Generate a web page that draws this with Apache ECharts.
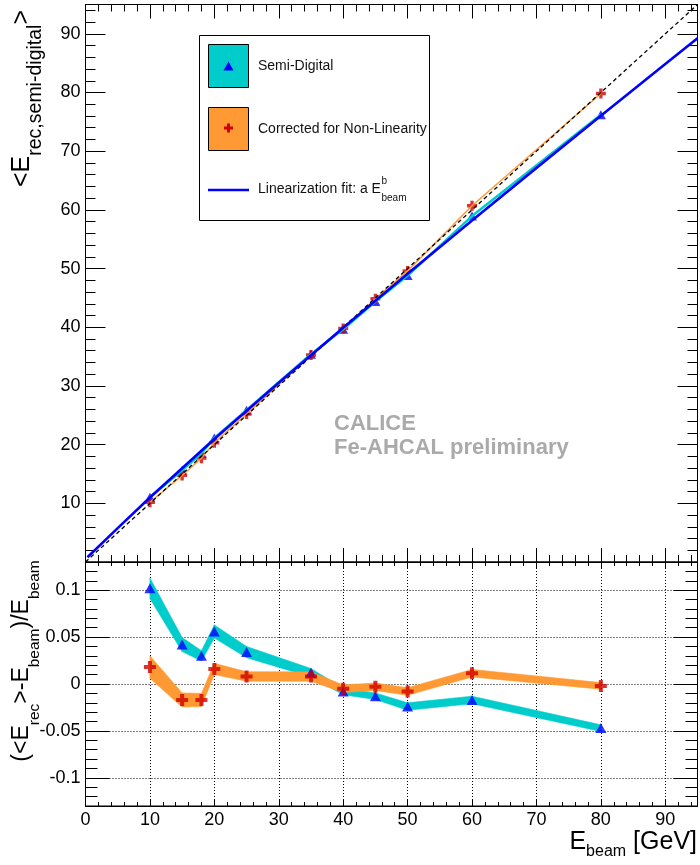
<!DOCTYPE html>
<html>
<head>
<meta charset="utf-8">
<script src="https://cdn.jsdelivr.net/npm/echarts@6/dist/echarts.min.js"></script>
<style>
html, body { margin: 0; padding: 0; background: #fff; }
#chart { width: 700px; height: 865px; }
</style>
</head>
<body>
<div id="chart"></div>
<script>
// Beam energies (GeV) of the measured points
const beamEnergy = [10, 15, 18, 20, 25, 35, 40, 45, 50, 60, 80];

// Mean reconstructed energy (GeV), upper panel
const recSemiDigital = [11.02, 15.63, 18.54, 21.12, 25.85, 35.42, 39.66, 44.40, 48.80, 58.95, 76.20];
const recCorrected   = [10.18, 14.75, 17.69, 20.32, 25.20, 35.28, 39.80, 44.86, 49.60, 60.70, 79.84];

// Relative deviation (<E_rec> - E_beam) / E_beam and its band half-width, lower panel
const devSemiDigital    = [0.102, 0.042, 0.030, 0.056, 0.034, 0.012, -0.008, -0.013, -0.024, -0.017, -0.047];
const devSemiDigitalErr = [0.011, 0.0075, 0.0055, 0.007, 0.006, 0.0045, 0.0035, 0.0035, 0.004, 0.004, 0.0035];
const devCorrected      = [0.018, -0.017, -0.017, 0.016, 0.008, 0.008, -0.005, -0.003, -0.008, 0.0115, -0.002];
const devCorrectedErr   = [0.012, 0.0075, 0.007, 0.006, 0.005, 0.005, 0.004, 0.004, 0.004, 0.004, 0.0035];

// Linearization fit a*E^b, sampled along the beam-energy range
const fitEnergy   = [0.3, 5, 10, 20, 30, 40, 50, 60, 70, 80, 90, 95];
const fitResponse = [0.8, 5.77, 11.0, 20.96, 30.55, 39.93, 49.12, 58.18, 67.16, 76.05, 84.86, 89.24];

// Diagonal E_rec = E_beam
const diagonal = [0, 95];

// Axis ranges and tick steps
const energyRange = [0, 95];
const responseRange = [0, 95];
const deviationRange = [-0.13, 0.13];
const energyMajor = 10, energyMinor = 2;
const responseMajor = 10, responseMinor = 2;
const deviationMinor = 0.01;

const FONT = 'Liberation Sans, Arial, Helvetica, sans-serif';
const CYAN = '#00cccc';
const ORANGE = '#ff9933';
const BLUE = '#0000ff';
const RED = '#d00000';
const CROSS = 'path://M4,0H8V4H12V8H8V12H4V8H0V4H4Z';

const pairs = (xs, ys) => xs.map((x, i) => [x, ys[i]]);

function axisBase(grid, pos, range, tickLen, extra) {
  return Object.assign({
    type: 'value', gridIndex: grid, position: pos, min: range[0], max: range[1],
    axisLine: { show: true, onZero: false, lineStyle: { color: '#000', width: 1 } },
    axisTick: { show: true, inside: true, length: tickLen, lineStyle: { color: '#000', width: 1 } },
    axisLabel: { show: false },
    splitLine: { show: false },
    minorTick: { show: false },
    minorSplitLine: { show: false }
  }, extra || {});
}

const tickLabel = { show: true, fontFamily: FONT, fontSize: 18, color: '#000' };
const dotted = { show: true, lineStyle: { color: '#000', width: 1, type: [1, 2] } };

const xAxes = [
  axisBase(0, 'bottom', energyRange, 14, { interval: energyMajor }),
  axisBase(0, 'bottom', energyRange, 7, { interval: energyMinor }),
  axisBase(0, 'top', energyRange, 14, { interval: energyMajor }),
  axisBase(0, 'top', energyRange, 7, { interval: energyMinor }),
  axisBase(1, 'bottom', energyRange, 7, {
    interval: energyMajor,
    axisLabel: Object.assign({}, tickLabel, { margin: 5, showMaxLabel: false }),
    splitLine: dotted
  }),
  axisBase(1, 'bottom', energyRange, 4, { interval: energyMinor }),
  axisBase(1, 'top', energyRange, 7, { interval: energyMajor }),
  axisBase(1, 'top', energyRange, 4, { interval: energyMinor })
];

const yAxes = [
  axisBase(0, 'left', responseRange, 20, {
    interval: responseMajor,
    axisLabel: Object.assign({}, tickLabel, { margin: 5, showMinLabel: false, showMaxLabel: false })
  }),
  axisBase(0, 'left', responseRange, 10, { interval: responseMinor }),
  axisBase(0, 'right', responseRange, 20, { interval: responseMajor }),
  axisBase(0, 'right', responseRange, 10, { interval: responseMinor }),
  axisBase(1, 'left', deviationRange, 24, {
    splitNumber: 5,
    axisLabel: Object.assign({}, tickLabel, { margin: 5, showMinLabel: false, showMaxLabel: false }),
    splitLine: dotted
  }),
  axisBase(1, 'left', deviationRange, 12, { interval: deviationMinor }),
  axisBase(1, 'right', deviationRange, 24, { splitNumber: 5 }),
  axisBase(1, 'right', deviationRange, 12, { interval: deviationMinor })
];

// Filled band between value-err and value+err, one quad per interval between points
function band(values, errs, color) {
  const segs = [];
  for (let i = 0; i < beamEnergy.length - 1; i++) {
    segs.push([
      beamEnergy[i], values[i] - errs[i], values[i] + errs[i],
      beamEnergy[i + 1], values[i + 1] - errs[i + 1], values[i + 1] + errs[i + 1]
    ]);
  }
  return {
    type: 'custom', xAxisIndex: 4, yAxisIndex: 4, data: segs, silent: true,
    encode: { x: [0, 3], y: [1, 2, 4, 5] },
    renderItem: (params, api) => {
      const pts = [
        api.coord([api.value(0), api.value(2)]),
        api.coord([api.value(3), api.value(5)]),
        api.coord([api.value(3), api.value(4)]),
        api.coord([api.value(0), api.value(1)])
      ];
      return { type: 'polygon', shape: { points: pts }, style: { fill: color, stroke: color, lineWidth: 0.6 } };
    }
  };
}

const series = [
  // upper panel
  { type: 'line', xAxisIndex: 0, yAxisIndex: 0, data: pairs(beamEnergy, recSemiDigital),
    symbol: 'none', lineStyle: { color: CYAN, width: 2.5 } },
  { type: 'line', xAxisIndex: 0, yAxisIndex: 0, data: pairs(beamEnergy, recCorrected),
    symbol: 'none', lineStyle: { color: ORANGE, width: 1.5 } },
  { type: 'line', xAxisIndex: 0, yAxisIndex: 0, data: pairs(diagonal, diagonal),
    symbol: 'none', lineStyle: { color: '#000', width: 1.3, type: [4, 3] } },
  { type: 'line', xAxisIndex: 0, yAxisIndex: 0, data: pairs(fitEnergy, fitResponse),
    symbol: 'none', smooth: false, lineStyle: { color: BLUE, width: 2.6 } },
  { type: 'scatter', xAxisIndex: 0, yAxisIndex: 0, data: pairs(beamEnergy, recSemiDigital),
    symbol: 'triangle', symbolSize: [10, 9], itemStyle: { color: BLUE } },
  { type: 'scatter', xAxisIndex: 0, yAxisIndex: 0, data: pairs(beamEnergy, recCorrected),
    symbol: CROSS, symbolSize: 10, itemStyle: { color: RED } },
  // lower panel
  band(devSemiDigital, devSemiDigitalErr, CYAN),
  band(devCorrected, devCorrectedErr, ORANGE),
  { type: 'scatter', xAxisIndex: 4, yAxisIndex: 4, data: pairs(beamEnergy, devSemiDigital),
    symbol: 'triangle', symbolSize: [11, 10], itemStyle: { color: BLUE } },
  { type: 'scatter', xAxisIndex: 4, yAxisIndex: 4, data: pairs(beamEnergy, devCorrected),
    symbol: CROSS, symbolSize: 12, itemStyle: { color: RED } }
];

// text width helper for placing super/subscripts in the legend
const measureCtx = document.createElement('canvas').getContext('2d');
function textWidth(str, size) {
  measureCtx.font = size + 'px ' + FONT;
  return measureCtx.measureText(str).width;
}

const legX = 258;
const fitLabel = 'Linearization fit: a E';
const fitLabelEnd = legX + textWidth(fitLabel, 14);

const graphic = [
  // legend frame
  { type: 'rect', z: 100, shape: { x: 199.5, y: 35.5, width: 230, height: 185 },
    style: { fill: '#fff', stroke: '#000', lineWidth: 1 } },
  { type: 'rect', z: 101, shape: { x: 208.5, y: 44.5, width: 40, height: 43 },
    style: { fill: CYAN, stroke: '#000', lineWidth: 1 } },
  { type: 'polygon', z: 102, shape: { points: [[228.5, 61.5], [233.5, 70.5], [223.5, 70.5]] },
    style: { fill: BLUE } },
  { type: 'rect', z: 101, shape: { x: 208.5, y: 107.5, width: 40, height: 43 },
    style: { fill: ORANGE, stroke: '#000', lineWidth: 1 } },
  { type: 'polygon', z: 102, shape: { points: [[227, 123.5], [230, 123.5], [230, 126.5], [233, 126.5], [233, 129.5], [230, 129.5], [230, 132.5], [227, 132.5], [227, 129.5], [224, 129.5], [224, 126.5], [227, 126.5]] },
    style: { fill: RED } },
  { type: 'line', z: 101, shape: { x1: 208, y1: 190, x2: 249, y2: 190 },
    style: { stroke: BLUE, lineWidth: 2.5 } },
  { type: 'text', z: 102, x: legX, y: 66, style: { text: 'Semi-Digital', font: '14px ' + FONT, fill: '#111', verticalAlign: 'middle' } },
  { type: 'text', z: 102, x: legX, y: 129, style: { text: 'Corrected for Non-Linearity', font: '14px ' + FONT, fill: '#111', verticalAlign: 'middle' } },
  { type: 'text', z: 102, x: legX, y: 189.5, style: { text: fitLabel, font: '14px ' + FONT, fill: '#111', verticalAlign: 'middle' } },
  { type: 'text', z: 102, x: fitLabelEnd + 0.5, y: 186, style: { text: 'b', font: '10px ' + FONT, fill: '#111', verticalAlign: 'bottom' } },
  { type: 'text', z: 102, x: fitLabelEnd + 0.5, y: 203, style: { text: 'beam', font: '10px ' + FONT, fill: '#111', verticalAlign: 'bottom' } },

  // collaboration label
  { type: 'text', z: 50, x: 334, y: 424, style: { text: 'CALICE', font: 'bold 22px ' + FONT, fill: '#aaaaaa', verticalAlign: 'middle' } },
  { type: 'text', z: 50, x: 334, y: 448, style: { text: 'Fe-AHCAL preliminary', font: 'bold 22px ' + FONT, fill: '#aaaaaa', verticalAlign: 'middle' } },

  // axis titles
  { type: 'text', z: 50, x: 9.5, y: 98.5, rotation: Math.PI / 2,
    style: {
      text: '{m|<E}{s|rec,semi-digital}{m|>}', align: 'center', verticalAlign: 'top', fill: '#000',
      rich: {
        m: { fontSize: 25, fontFamily: FONT, verticalAlign: 'top', fill: '#000' },
        s: { fontSize: 19.5, fontFamily: FONT, verticalAlign: 'top', padding: [16, 0, 0, 0], fill: '#000' }
      }
    } },
  { type: 'text', z: 50, x: 10.5, y: 661, rotation: Math.PI / 2,
    style: {
      text: '{m|(<E}{s|rec}{m|>-E}{s|beam}{m|)/E}{s|beam}', align: 'center', verticalAlign: 'top', fill: '#000',
      rich: {
        m: { fontSize: 23, fontFamily: FONT, verticalAlign: 'top', fill: '#000' },
        s: { fontSize: 15.5, fontFamily: FONT, verticalAlign: 'top', padding: [16, 0, 0, 0], fill: '#000' }
      }
    } },
  { type: 'text', z: 50, x: 697, y: 830,
    style: {
      text: '{m|E}{s|beam}{m| [GeV]}', align: 'right', verticalAlign: 'top', fill: '#000',
      rich: {
        m: { fontSize: 25, fontFamily: FONT, verticalAlign: 'top', fill: '#000' },
        s: { fontSize: 16, fontFamily: FONT, verticalAlign: 'top', padding: [14, 0, 0, 0], fill: '#000' }
      }
    } }
];

const chart = echarts.init(document.getElementById('chart'), null, { renderer: 'canvas' });
chart.setOption({
  animation: false,
  backgroundColor: '#fff',
  grid: [
    { left: 85.5, width: 612, top: 4.5, height: 557.5, show: true, borderColor: '#000', borderWidth: 1, backgroundColor: 'transparent' },
    { left: 85.5, width: 612, top: 562, height: 244, show: true, borderColor: '#000', borderWidth: 1, backgroundColor: 'transparent' }
  ],
  xAxis: xAxes,
  yAxis: yAxes,
  series: series,
  graphic: graphic
});
</script>
</body>
</html>
